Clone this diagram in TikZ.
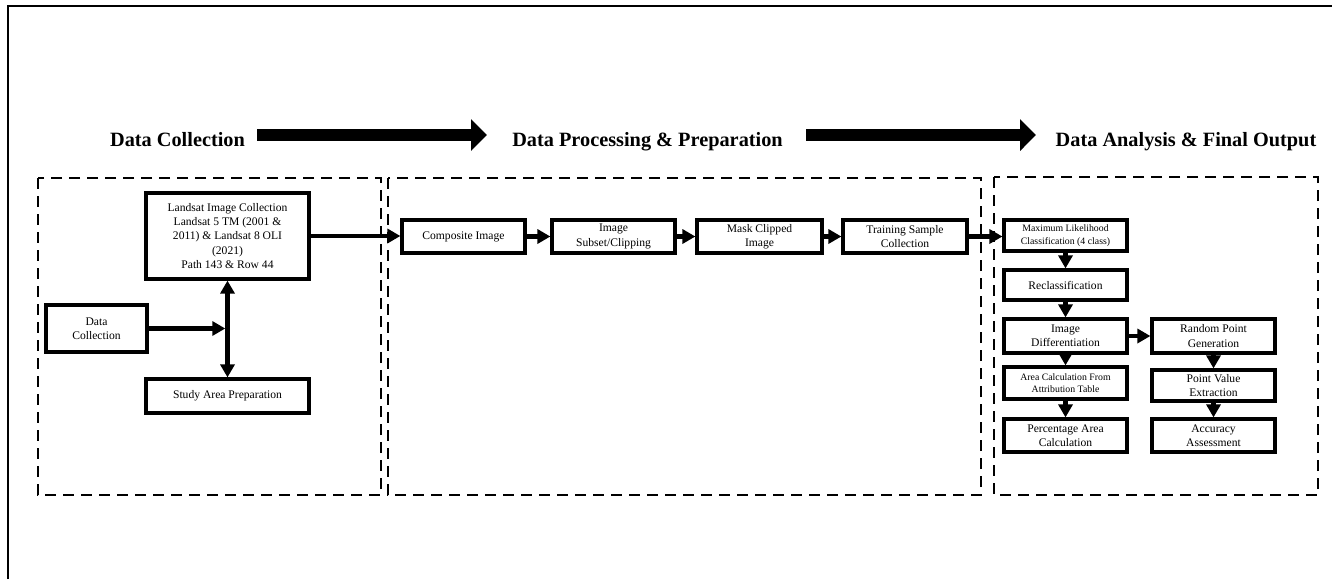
\documentclass[tikz,border=0pt]{standalone}
\usepackage{fontspec}
\setmainfont{Liberation Serif}
\usetikzlibrary{arrows.meta}
\begin{document}
\begin{tikzpicture}[x=1pt,y=-1pt,
  box/.style={draw,line width=3.2pt,inner sep=0pt,align=center,font=\fontsize{11.6}{14.2}\selectfont},
  sbox/.style={box,font=\fontsize{9.8}{12.3}\selectfont},
  conn/.style={line width=4.4pt,-{Triangle[length=13pt,width=14pt]}},
  dconn/.style={line width=4.4pt,{Triangle[length=13pt,width=14pt]}-{Triangle[length=13pt,width=14pt]}},
  group/.style={draw,line width=2pt,dash pattern=on 11pt off 7pt},
  title/.style={font=\fontsize{20.3}{24}\selectfont\bfseries,anchor=base,inner sep=0pt},
  bigarrow/.style={line width=12pt,-{Triangle[length=16pt,width=31pt]}}]
\useasboundingbox (0,0) rectangle (1332,579);
% outer frame
\draw[line width=2pt] (7.5,579) -- (7.5,6) -- (1332,6);
% titles
\node[title] (t1) at (177.5,146.5) {Data Collection};
\node[title] (t2) at (647.5,146.5) {Data Processing \& Preparation};
\node[title] (t3) at (1186,146.5) {Data Analysis \& Final Output};
\coordinate (a1s) at (257,135);
\coordinate (a1e) at (487,135);
\coordinate (a2s) at (806,135);
\coordinate (a2e) at (1036,135);
\draw[bigarrow] (a1s) -- (a1e);
\draw[bigarrow] (a2s) -- (a2e);
% groups
\draw[group] (38,178) rectangle (381,495);
\draw[group] (388,178) rectangle (981,495);
\draw[group] (994,177) rectangle (1318,495);
% boxes
\node[box,minimum width=163pt,minimum height=86pt] (landsat) at (227.5,236)
  {Landsat Image Collection\\Landsat 5 TM (2001 \&\\2011) \& Landsat 8 OLI\\(2021)\\Path 143 \& Row 44};
\node[box,minimum width=101pt,minimum height=47pt] (datacoll) at (96.5,328.5) {Data\\Collection};
\node[box,minimum width=163pt,minimum height=34pt] (study) at (227.5,396) {Study Area Preparation};
\node[box,minimum width=123pt,minimum height=33pt] (composite) at (463.5,236.5) {Composite Image};
\node[box,minimum width=123pt,minimum height=33pt] (subset) at (613.5,236.5) {Image\\Subset/Clipping};
\node[box,minimum width=125pt,minimum height=33pt] (mask) at (759.5,236.5) {Mask Clipped\\Image};
\node[box,minimum width=124pt,minimum height=33pt] (training) at (905,236.5) {Training Sample\\Collection};
\node[sbox,minimum width=123pt,minimum height=31pt] (mlc) at (1065.5,235.5) {Maximum Likelihood\\Classification (4 class)};
\node[box,minimum width=123pt,minimum height=30pt] (reclass) at (1065.5,285) {Reclassification};
\node[box,minimum width=123pt,minimum height=34pt] (imgdiff) at (1065.5,336) {Image\\Differentiation};
\node[sbox,minimum width=123pt,minimum height=32pt] (areacalc) at (1065.5,383) {Area Calculation From\\Attribution Table};
\node[box,minimum width=123pt,minimum height=33pt] (pct) at (1065.5,435.5) {Percentage Area\\Calculation};
\node[box,minimum width=123pt,minimum height=34pt] (random) at (1213.5,336) {Random Point\\Generation};
\node[box,minimum width=123pt,minimum height=31pt] (pointval) at (1213.5,385.5) {Point Value\\Extraction};
\node[box,minimum width=123pt,minimum height=33pt] (accuracy) at (1213.5,435.5) {Accuracy\\Assessment};
% connectors
\coordinate (junc) at (landsat.south |- datacoll.east);
\draw[dconn] (landsat.south) -- (study.north);
\draw[conn,shorten >=2.2pt] (datacoll.east) -- (junc);
\draw[conn] (landsat.east) -- (landsat.east -| composite.west);
\draw[conn] (composite) -- (subset);
\draw[conn] (subset) -- (mask);
\draw[conn] (mask) -- (training);
\draw[conn] (training.east) -- (training.east -| mlc.west);
\draw[conn] (mlc) -- (reclass);
\draw[conn] (reclass) -- (imgdiff);
\draw[conn] (imgdiff) -- (areacalc);
\draw[conn] (areacalc) -- (pct);
\draw[conn] (imgdiff) -- (random);
\draw[conn] (random) -- (pointval);
\draw[conn] (pointval) -- (accuracy);
\end{tikzpicture}
\end{document}
